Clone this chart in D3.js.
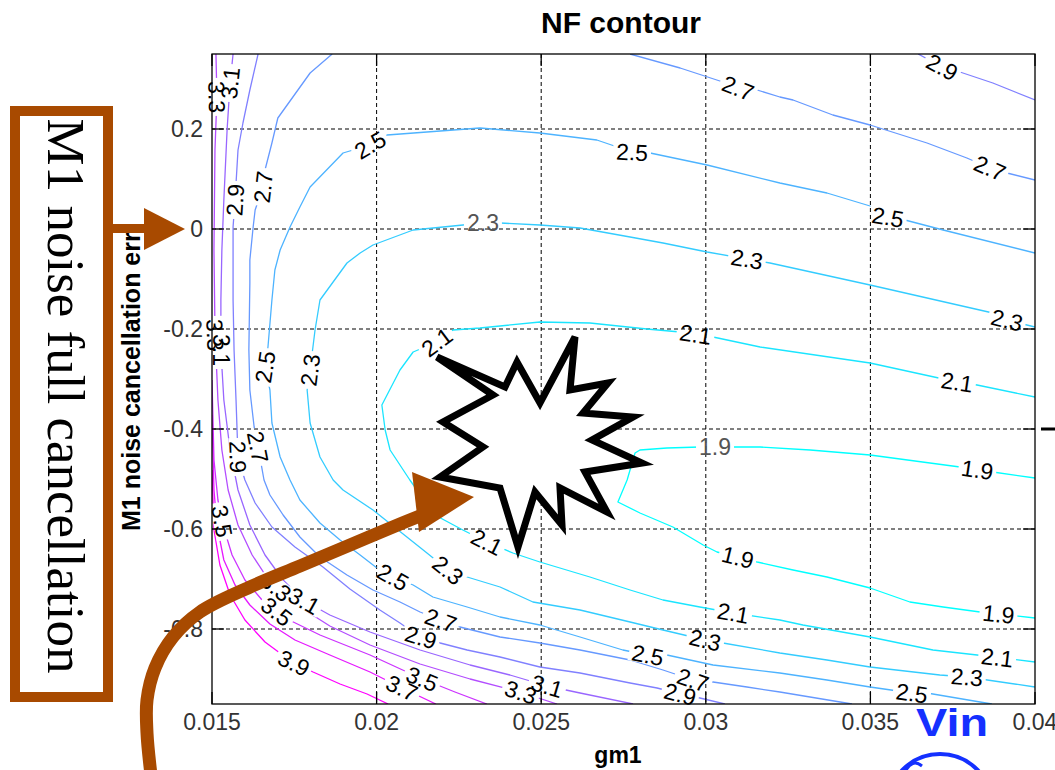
<!DOCTYPE html>
<html>
<head>
<meta charset="utf-8">
<script src="https://cdn.jsdelivr.net/npm/d3@7"></script>
<style>
  body { margin: 0; background: #fff; }
  svg { display: block; }
</style>
</head>
<body>
<svg id="chart" width="1055" height="770"></svg>
<script>
// ---- NF contour data: gm1 (x) vs M1 noise cancellation error (y) ----
const nfLevels = [1.9, 2.1, 2.3, 2.5, 2.7, 2.9, 3.1, 3.3, 3.5, 3.7, 3.9];
const xTicks = [0.015, 0.02, 0.025, 0.03, 0.035, 0.04];
const yTicks = [-0.8, -0.6, -0.4, -0.2, 0, 0.2];
const xDomain = [0.015, 0.04];
const yDomain = [-0.95, 0.35];

// contour polylines, [gm1, err] pairs
const nf19 = [[0.04,-0.498],[0.03872,-0.486],[0.03772,-0.476],[0.03499,-0.452],[0.03317,-0.442],[0.03165,-0.436],[0.02982,-0.436],[0.02882,-0.438],[0.028,-0.442],[0.02785,-0.448],[0.02761,-0.502],[0.02733,-0.546],[0.028,-0.568],[0.029,-0.596],[0.02992,-0.632],[0.03034,-0.646],[0.03156,-0.666],[0.03265,-0.682],[0.03368,-0.696],[0.03499,-0.718],[0.0362,-0.746],[0.03721,-0.756],[0.03833,-0.766],[0.04,-0.778]];
const nf21 = [[0.04,-0.336],[0.03824,-0.312],[0.03763,-0.306],[0.03499,-0.268],[0.03165,-0.236],[0.03022,-0.216],[0.02922,-0.206],[0.02821,-0.2],[0.02648,-0.188],[0.02496,-0.186],[0.02314,-0.198],[0.02232,-0.202],[0.02183,-0.226],[0.02111,-0.246],[0.02071,-0.282],[0.02016,-0.352],[0.02026,-0.402],[0.02041,-0.442],[0.02101,-0.502],[0.02177,-0.572],[0.02262,-0.602],[0.02335,-0.626],[0.02414,-0.648],[0.02496,-0.666],[0.02648,-0.696],[0.0277,-0.722],[0.0287,-0.742],[0.02982,-0.756],[0.03083,-0.768],[0.03225,-0.782],[0.03295,-0.792],[0.03499,-0.816],[0.0369,-0.842],[0.03824,-0.852],[0.04,-0.866]];
const nf23 = [[0.04,-0.196],[0.03915,-0.182],[0.03872,-0.168],[0.03499,-0.112],[0.03195,-0.068],[0.03125,-0.06],[0.03004,-0.046],[0.0287,-0.028],[0.0277,-0.016],[0.02618,0.002],[0.02496,0.008],[0.02375,0.012],[0.02323,0.012],[0.02111,-0.002],[0.01989,-0.032],[0.0195,-0.048],[0.0191,-0.068],[0.01828,-0.142],[0.01813,-0.202],[0.01798,-0.282],[0.01789,-0.322],[0.01798,-0.388],[0.01828,-0.456],[0.01868,-0.502],[0.01898,-0.522],[0.01989,-0.562],[0.02092,-0.616],[0.02153,-0.648],[0.02217,-0.682],[0.02275,-0.696],[0.02375,-0.716],[0.02475,-0.746],[0.02618,-0.762],[0.0277,-0.786],[0.0287,-0.802],[0.02998,-0.822],[0.03052,-0.828],[0.03225,-0.848],[0.03368,-0.862],[0.03499,-0.876],[0.03711,-0.892],[0.03793,-0.896],[0.04,-0.916]];
const nf25 = [[0.04,-0.048],[0.03721,-0.002],[0.03605,0.018],[0.03553,0.024],[0.03499,0.046],[0.03368,0.072],[0.03225,0.092],[0.03004,0.128],[0.02831,0.152],[0.02776,0.154],[0.02669,0.178],[0.02496,0.192],[0.02314,0.202],[0.02032,0.188],[0.0198,0.168],[0.01898,0.152],[0.01798,0.084],[0.01767,0.044],[0.01737,0.004],[0.01707,-0.042],[0.01691,-0.082],[0.01682,-0.142],[0.0167,-0.236],[0.01661,-0.276],[0.01676,-0.322],[0.01682,-0.388],[0.01707,-0.456],[0.01737,-0.502],[0.01767,-0.542],[0.01828,-0.588],[0.01889,-0.622],[0.0195,-0.652],[0.02001,-0.678],[0.0205,-0.696],[0.02111,-0.712],[0.02171,-0.736],[0.02275,-0.756],[0.02375,-0.776],[0.02496,-0.792],[0.02618,-0.816],[0.02748,-0.842],[0.02824,-0.852],[0.02882,-0.852],[0.03022,-0.872],[0.03225,-0.888],[0.03368,-0.902],[0.03499,-0.916],[0.03626,-0.928],[0.03672,-0.928],[0.03833,-0.946],[0.03869,-0.95]];
const nf27a = [[0.0277,0.35],[0.02922,0.322],[0.03052,0.294],[0.03098,0.282],[0.03156,0.278],[0.03225,0.264],[0.03265,0.258],[0.03386,0.228],[0.03499,0.208],[0.03672,0.172],[0.03793,0.142],[0.03863,0.122],[0.03915,0.112],[0.04,0.098]];
const nf27b = [[0.01865,0.35],[0.01798,0.312],[0.017,0.222],[0.01682,0.172],[0.01661,0.118],[0.01655,0.084],[0.01631,0.038],[0.01625,0.004],[0.01615,-0.062],[0.01615,-0.108],[0.01612,-0.242],[0.01615,-0.322],[0.01628,-0.396],[0.0164,-0.436],[0.01658,-0.502],[0.01676,-0.532],[0.01716,-0.572],[0.01767,-0.616],[0.01828,-0.656],[0.0191,-0.692],[0.01989,-0.722],[0.02071,-0.746],[0.02132,-0.766],[0.02193,-0.782],[0.02253,-0.796],[0.02375,-0.816],[0.02496,-0.828],[0.02618,-0.842],[0.0277,-0.862],[0.0287,-0.882],[0.02961,-0.902],[0.03022,-0.906],[0.03125,-0.916],[0.03225,-0.926],[0.03408,-0.946],[0.03444,-0.95]];
const nf29a = [[0.03645,0.35],[0.03718,0.324],[0.03772,0.314],[0.03872,0.292],[0.04,0.258]];
const nf29b = [[0.0164,0.35],[0.01615,0.278],[0.01594,0.212],[0.01579,0.158],[0.0157,0.058],[0.01564,0.004],[0.01564,-0.062],[0.01564,-0.142],[0.01567,-0.242],[0.01573,-0.342],[0.01579,-0.456],[0.016,-0.502],[0.01631,-0.548],[0.01682,-0.596],[0.01752,-0.636],[0.01837,-0.676],[0.01919,-0.72],[0.0201,-0.762],[0.02071,-0.788],[0.02132,-0.816],[0.02193,-0.828],[0.02275,-0.842],[0.02375,-0.856],[0.02496,-0.876],[0.02618,-0.888],[0.0277,-0.908],[0.02852,-0.918],[0.02922,-0.93],[0.02982,-0.938],[0.03058,-0.95]];
const nf31 = [[0.01564,0.35],[0.01555,0.292],[0.01546,0.2],[0.01536,0.058],[0.0153,-0.042],[0.01527,-0.142],[0.01527,-0.242],[0.01536,-0.342],[0.01555,-0.442],[0.01579,-0.522],[0.01615,-0.592],[0.01661,-0.652],[0.01716,-0.702],[0.01776,-0.742],[0.01858,-0.772],[0.0198,-0.806],[0.02132,-0.842],[0.02284,-0.872],[0.02405,-0.892],[0.02518,-0.914],[0.02618,-0.928],[0.02779,-0.95]];
const nf33 = [[0.01512,0.35],[0.01515,0.264],[0.01509,0.158],[0.01506,-0.042],[0.01509,-0.202],[0.01518,-0.342],[0.0153,-0.442],[0.01549,-0.522],[0.01579,-0.592],[0.01622,-0.652],[0.01676,-0.706],[0.01737,-0.738],[0.01767,-0.756],[0.01858,-0.794],[0.0198,-0.832],[0.02132,-0.87],[0.02284,-0.9],[0.02436,-0.926],[0.02548,-0.95]];
const nf35 = [[0.015,-0.302],[0.01506,-0.462],[0.01518,-0.542],[0.01533,-0.592],[0.01561,-0.652],[0.016,-0.702],[0.01652,-0.742],[0.01722,-0.778],[0.01828,-0.812],[0.0198,-0.852],[0.02132,-0.898],[0.02238,-0.926],[0.02335,-0.95]];
const nf37 = [[0.015,-0.372],[0.01506,-0.522],[0.01515,-0.592],[0.01536,-0.662],[0.0157,-0.712],[0.01615,-0.752],[0.01676,-0.79],[0.01752,-0.822],[0.01858,-0.852],[0.0198,-0.886],[0.02071,-0.916],[0.0218,-0.95]];
const nf39 = [[0.015,-0.482],[0.01506,-0.602],[0.01524,-0.672],[0.01555,-0.732],[0.016,-0.782],[0.01661,-0.826],[0.01743,-0.866],[0.01807,-0.886],[0.01889,-0.91],[0.01971,-0.93],[0.02035,-0.95]];

// inline label spots: [level, gm1, err]
const labelSpots = [
  [1.9,0.03824,-0.486],[1.9,0.03095,-0.662],[1.9,0.03888,-0.776],
  [2.1,0.03763,-0.306],[2.1,0.02967,-0.218],[2.1,0.02183,-0.226],[2.1,0.02335,-0.626],[2.1,0.03083,-0.768],[2.1,0.03885,-0.858],
  [2.3,0.03915,-0.182],[2.3,0.03125,-0.06],[2.3,0.01798,-0.282],[2.3,0.02217,-0.682],[2.3,0.02998,-0.822],[2.3,0.03793,-0.896],
  [2.5,0.03553,0.024],[2.5,0.02776,0.154],[2.5,0.0198,0.168],[2.5,0.01661,-0.276],[2.5,0.0205,-0.696],[2.5,0.02824,-0.852],[2.5,0.03626,-0.928],
  [2.7,0.03098,0.282],[2.7,0.03863,0.122],[2.7,0.01655,0.084],[2.7,0.0164,-0.436],[2.7,0.02193,-0.786],[2.7,0.02961,-0.902],
  [2.9,0.03718,0.324],[2.9,0.0157,0.058],[2.9,0.01579,-0.456],[2.9,0.02132,-0.822],[2.9,0.02922,-0.93],
  [3.1,0.01555,0.292],[3.1,0.01527,-0.242],[3.1,0.01776,-0.748],[3.1,0.02518,-0.914],
  [3.3,0.01515,0.264],[3.3,0.01509,-0.212],[3.3,0.01682,-0.726],[3.3,0.02436,-0.93],
  [3.5,0.01518,-0.586],[3.5,0.017,-0.762],[3.5,0.02132,-0.91],
  [3.7,0.02071,-0.926],
  [3.9,0.01743,-0.876]
];
// two labels that render in the lighter, plain style
const labelSpotsPlain = [[1.9,0.03028,-0.436],[2.3,0.02323,0.012]];

const contourSet = [
  [1.9, nf19], [2.1, nf21], [2.3, nf23], [2.5, nf25],
  [2.7, nf27a], [2.7, nf27b], [2.9, nf29a], [2.9, nf29b],
  [3.1, nf31], [3.3, nf33], [3.5, nf35], [3.7, nf37], [3.9, nf39]
];

// ---- layout ----
const W = 1055, H = 770;
const plot = { left: 212, right: 1035, top: 54, bottom: 704 };
const svg = d3.select("#chart");
const x = d3.scaleLinear().domain(xDomain).range([plot.left, plot.right]);
const y = d3.scaleLinear().domain(yDomain).range([plot.bottom, plot.top]);
const SANS = "'Liberation Sans', Arial, Helvetica, sans-serif";
const BROWN = "#a84a00";

// MATLAB "cool" colormap across the contour levels
const levelExtent = d3.extent(nfLevels);
const coolColor = v => {
  const t = (v - levelExtent[0]) / (levelExtent[1] - levelExtent[0]);
  return d3.rgb(Math.round(255 * t), Math.round(255 * (1 - t)), 255).toString();
};

svg.append("rect").attr("width", W).attr("height", H).attr("fill", "#fff");

const defs = svg.append("defs");
defs.append("clipPath").attr("id", "plot-clip").append("rect")
  .attr("x", plot.left).attr("y", plot.top)
  .attr("width", plot.right - plot.left).attr("height", plot.bottom - plot.top);

// ---- grid ----
const grid = svg.append("g").attr("stroke", "#000").attr("stroke-width", 1)
  .attr("stroke-dasharray", "4,3").attr("fill", "none");
grid.selectAll("line.gx").data(xTicks.filter(v => v > xDomain[0] && v < xDomain[1])).join("line")
  .attr("x1", d => x(d)).attr("x2", d => x(d)).attr("y1", plot.top).attr("y2", plot.bottom);
grid.selectAll("line.gy").data(yTicks).join("line")
  .attr("y1", d => y(d)).attr("y2", d => y(d)).attr("x1", plot.left).attr("x2", plot.right);

// ---- contour lines ----
const line = d3.line().x(d => x(d[0])).y(d => y(d[1]));
const pixLines = contourSet.map(([lv, pts]) => ({ lv, px: pts.map(p => [x(p[0]), y(p[1])]) }));

// place a label on the nearest segment of its level, aligned with the segment
function placeOnLine(lv, gx, gy) {
  const p = [x(gx), y(gy)];
  let best = { d: Infinity };
  pixLines.filter(c => c.lv === lv).forEach(c => {
    for (let i = 0; i < c.px.length - 1; i++) {
      const a = c.px[i], b = c.px[i + 1];
      const dx = b[0] - a[0], dy = b[1] - a[1];
      const len2 = dx * dx + dy * dy;
      let t = len2 ? ((p[0] - a[0]) * dx + (p[1] - a[1]) * dy) / len2 : 0;
      t = Math.max(0, Math.min(1, t));
      const q = [a[0] + t * dx, a[1] + t * dy];
      const d = Math.hypot(q[0] - p[0], q[1] - p[1]);
      if (d < best.d) {
        let ang = Math.atan2(dy, dx) * 180 / Math.PI;
        if (ang > 90) ang -= 180;
        if (ang < -90) ang += 180;
        best = { d, q, ang };
      }
    }
  });
  return best;
}

const mask = defs.append("mask").attr("id", "label-gaps")
  .attr("maskUnits", "userSpaceOnUse").attr("x", 0).attr("y", 0).attr("width", W).attr("height", H);
mask.append("rect").attr("width", W).attr("height", H).attr("fill", "#fff");

const contourG = svg.append("g").attr("clip-path", "url(#plot-clip)");
contourG.append("g").attr("mask", "url(#label-gaps)")
  .selectAll("path").data(contourSet).join("path")
  .attr("d", d => line(d[1]))
  .attr("fill", "none")
  .attr("stroke", d => coolColor(d[0]))
  .attr("stroke-width", 1.3)
  .attr("stroke-linejoin", "round");

const labelG = svg.append("g").attr("font-family", SANS).attr("font-size", 23);
function addLabel(spot, plain) {
  const [lv, gx, gy] = spot;
  const pos = placeOnLine(lv, gx, gy);
  const t = labelG.append("text")
    .attr("transform", `translate(${pos.q[0]},${pos.q[1]}) rotate(${pos.ang})`)
    .attr("text-anchor", "middle")
    .attr("dy", "0.36em")
    .attr("fill", plain ? "#555" : "#000")
    .text(d3.format(".1f")(lv));
  const w = t.node().getComputedTextLength();
  mask.append("rect")
    .attr("x", -w / 2 - 3).attr("y", -9).attr("width", w + 6).attr("height", 18)
    .attr("transform", `translate(${pos.q[0]},${pos.q[1]}) rotate(${pos.ang})`)
    .attr("fill", "#000");
}
labelSpots.forEach(s => addLabel(s, false));
labelSpotsPlain.forEach(s => addLabel(s, true));

// ---- axes box, inward ticks, tick labels ----
const axisG = svg.append("g").attr("stroke", "#000").attr("stroke-width", 1.3);
axisG.append("rect").attr("x", plot.left).attr("y", plot.top)
  .attr("width", plot.right - plot.left).attr("height", plot.bottom - plot.top).attr("fill", "none");
const tl = 12;
xTicks.forEach(v => {
  axisG.append("line").attr("x1", x(v)).attr("x2", x(v)).attr("y1", plot.bottom).attr("y2", plot.bottom - tl);
  axisG.append("line").attr("x1", x(v)).attr("x2", x(v)).attr("y1", plot.top).attr("y2", plot.top + tl);
});
yTicks.forEach(v => {
  axisG.append("line").attr("y1", y(v)).attr("y2", y(v)).attr("x1", plot.left).attr("x2", plot.left + tl);
  axisG.append("line").attr("y1", y(v)).attr("y2", y(v)).attr("x1", plot.right).attr("x2", plot.right - tl);
});

const tickText = svg.append("g").attr("font-family", SANS).attr("font-size", 23).attr("fill", "#333");
tickText.selectAll("text.xt").data(xTicks).join("text")
  .attr("x", d => x(d)).attr("y", 730).attr("text-anchor", "middle")
  .text(d => String(d));
tickText.selectAll("text.yt").data(yTicks).join("text")
  .attr("x", plot.left - 9).attr("y", d => y(d)).attr("dy", "0.36em").attr("text-anchor", "end")
  .text(d => String(d));

// ---- title and axis labels ----
svg.append("text").attr("x", 621).attr("y", 33).attr("text-anchor", "middle")
  .attr("font-family", SANS).attr("font-weight", "bold").attr("font-size", 30)
  .text("NF contour");
svg.append("text").attr("x", 618).attr("y", 763).attr("text-anchor", "middle")
  .attr("font-family", SANS).attr("font-weight", "bold").attr("font-size", 23)
  .text("gm1");
svg.append("text").attr("transform", "translate(140,531) rotate(-90)")
  .attr("text-anchor", "start")
  .attr("font-family", SANS).attr("font-weight", "bold").attr("font-size", 25)
  .text("M1 noise cancellation err");

// ---- slide annotations ----
const ann = svg.append("g");

// boxed caption with pointer to y = 0
ann.append("rect").attr("x", 15).attr("y", 111).attr("width", 93).attr("height", 586)
  .attr("fill", "#fff").attr("stroke", BROWN).attr("stroke-width", 10);
ann.append("text").attr("transform", "translate(66,396) rotate(90)")
  .attr("text-anchor", "middle").attr("dominant-baseline", "central")
  .attr("font-family", "'Liberation Serif', 'Times New Roman', serif").attr("font-size", 53)
  .attr("fill", "#000").text("M1 noise full cancellation");
ann.append("rect").attr("x", 112).attr("y", 224).attr("width", 34).attr("height", 9).attr("fill", BROWN);
ann.append("polygon").attr("points", [[144, 208], [185, 229], [144, 250]].join(" ")).attr("fill", BROWN);

// curved pointer into the optimum region
ann.append("path")
  .attr("d", d3.line().curve(d3.curveCatmullRom)([[151, 775], [147, 733], [147, 700], [155, 668], [173, 637], [200, 612], [250, 587], [300, 566], [350, 545], [400, 524], [430, 512]]))
  .attr("fill", "none").attr("stroke", BROWN).attr("stroke-width", 13);
ann.append("polygon").attr("points", [[412, 472], [474, 497], [419, 532]].join(" ")).attr("fill", BROWN);

// starburst marking the minimum
const burst = [[575,337],[570,390],[608,383],[583,413],[633,417],[592,440],[642,463],[585,472],[607,512],[560,488],[562,525],[535,492],[518,547],[500,488],[440,477],[483,447],[443,422],[493,395],[437,357],[505,387],[517,362],[540,403]];
ann.append("polygon").attr("points", burst.join(" "))
  .attr("fill", "#fff").attr("stroke", "#000").attr("stroke-width", 7).attr("stroke-linejoin", "miter");

// Vin source symbol
ann.append("text").attr("x", 916).attr("y", 736)
  .attr("font-family", SANS).attr("font-weight", "bold").attr("font-size", 38)
  .attr("textLength", 72).attr("lengthAdjust", "spacingAndGlyphs")
  .attr("fill", "#1430ff").text("Vin");
ann.append("circle").attr("cx", 940).attr("cy", 806).attr("r", 52)
  .attr("fill", "none").attr("stroke", "#1430ff").attr("stroke-width", 4);
ann.append("path").attr("d", "M905,772 Q912,758 922,766")
  .attr("fill", "none").attr("stroke", "#1430ff").attr("stroke-width", 3);

// marker at the right margin
ann.append("line").attr("x1", 1041).attr("x2", 1055).attr("y1", 429).attr("y2", 429)
  .attr("stroke", "#000").attr("stroke-width", 3);
</script>
</body>
</html>
